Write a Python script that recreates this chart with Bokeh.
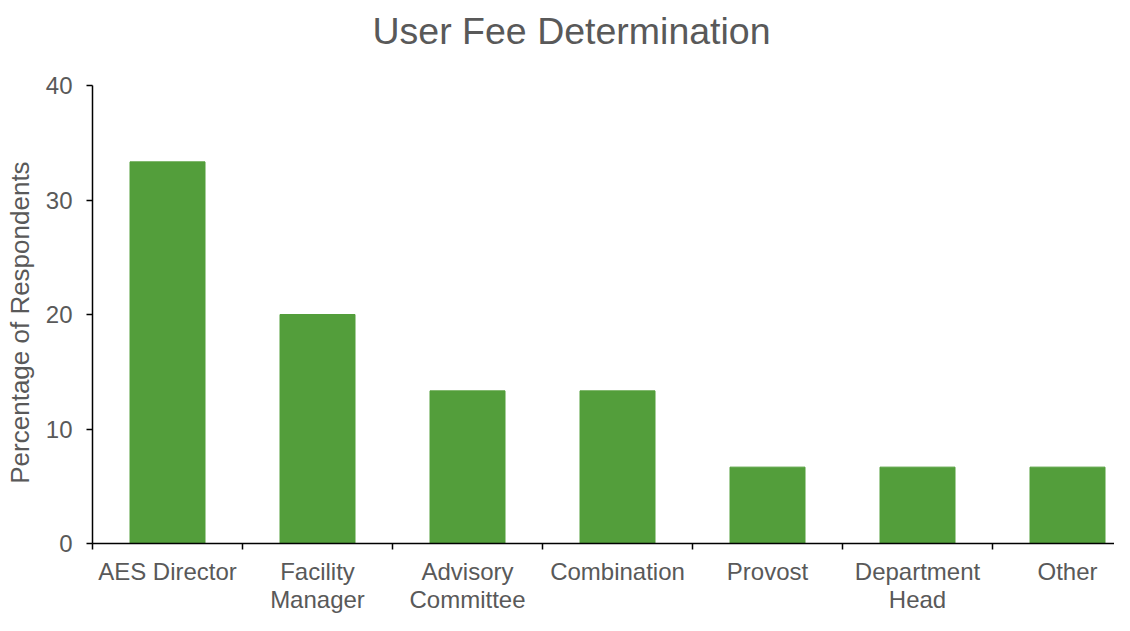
from bokeh.plotting import figure
from bokeh.models import Range1d, FixedTicker, Label
from bokeh.embed import file_html
from bokeh.resources import INLINE
import numpy as np

title_text = "User Fee Determination"
y_label = "Percentage of Respondents"
categories = ["AES Director", "Facility\nManager", "Advisory\nCommittee", "Combination",
              "Provost", "Department\nHead", "Other"]
values = [33.33, 20.0, 13.33, 13.33, 6.67, 6.67, 6.67]
y_ticks = [0, 10, 20, 30, 40]

FONT = "Liberation Sans"
GREY = "#595959"

centers = np.arange(len(categories)) + 0.5
bounds = list(range(len(categories) + 1))

W, H = 1114, 615
FRAME_H = 543          # frame height (canvas minus bottom axis panel)
TOP_PAD = 85           # pixels above the 40 line reserved for the title
y_max = y_ticks[-1]
y_end = y_max * FRAME_H / (FRAME_H - TOP_PAD)

p = figure(width=W, height=H, output_backend="svg", toolbar_location=None,
           x_range=Range1d(0, 1022 / 150), y_range=Range1d(0, y_end),
           min_border_left=92, min_border_right=0, min_border_top=0, min_border_bottom=40)

# screen units are measured from the frame's bottom-left corner
title = Label(x=280, y=FRAME_H - 30, x_units="screen", y_units="screen", text=title_text,
              text_font=FONT, text_font_size="37.5px", text_color=GREY,
              text_align="left", text_baseline="alphabetic")
p.add_layout(title)

p.vbar(x=centers, top=values, width=0.5, color="#539E3B")

p.xgrid.visible = False
p.ygrid.visible = False
p.outline_line_color = None

xa = p.xaxis[0]
xa.ticker = FixedTicker(ticks=list(centers), minor_ticks=bounds)
xa.major_label_overrides = {float(c): lab for c, lab in zip(centers, categories)}
xa.major_tick_out = 0
xa.major_tick_in = 0
xa.minor_tick_out = 6
xa.minor_tick_in = 0
xa.minor_tick_line_color = "black"
xa.minor_tick_line_width = 1.5
xa.axis_line_color = "black"
xa.axis_line_width = 1.5
xa.major_label_text_font = FONT
xa.major_label_text_font_size = "24px"
xa.major_label_text_color = GREY
xa.major_label_text_line_height = 1.05
xa.major_label_standoff = 8

ya = p.yaxis[0]
ya.ticker = FixedTicker(ticks=y_ticks)
ya.bounds = (0, y_max)
ya.major_tick_out = 6
ya.major_tick_in = 0
ya.minor_tick_out = 0
ya.minor_tick_in = 0
ya.major_tick_line_color = "black"
ya.major_tick_line_width = 1.5
ya.axis_line_color = "black"
ya.axis_line_width = 1.5
ya.major_label_text_font = FONT
ya.major_label_text_font_size = "24px"
ya.major_label_text_color = GREY
ya.major_label_standoff = 14
# trailing no-break spaces centre the visible label on the 0-40 span rather than the whole frame
ya.axis_label = y_label + "\u00a0" * 14
ya.axis_label_text_font = FONT
ya.axis_label_text_font_size = "26px"
ya.axis_label_text_font_style = "normal"
ya.axis_label_text_color = GREY
ya.axis_label_standoff = 8

open("out.html", "w").write(file_html(p, INLINE))
